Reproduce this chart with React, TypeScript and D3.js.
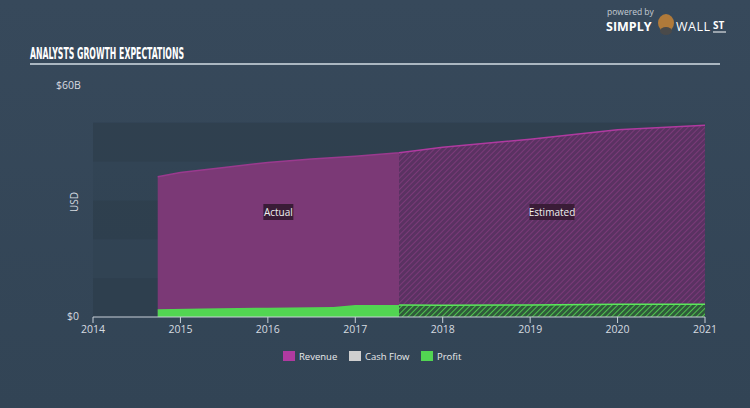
import React from "react";
import * as d3 from "d3";

const W = 750;
const H = 408;

const revenueYears = [2014.74, 2015.0, 2015.5, 2016.0, 2016.5, 2017.0, 2017.5, 2018, 2019, 2020, 2021];
const revenueValues = [36.1, 37.2, 38.5, 39.8, 40.7, 41.4, 42.3, 43.7, 45.8, 48.2, 49.4];

const profitYears = [2014.74, 2015.25, 2016.0, 2016.75, 2017.0, 2017.5, 2018, 2019, 2020, 2021];
const profitValues = [2.0, 2.2, 2.4, 2.6, 3.1, 3.1, 3.0, 3.1, 3.3, 3.3];

const estimateStart = 2017.5;
const xTicks = [2014, 2015, 2016, 2017, 2018, 2019, 2020, 2021];
const bandStarts = [0, 20, 40];
const legendItems = [
  { label: "Revenue", color: "#b03aa0" },
  { label: "Cash Flow", color: "#cfcfcf" },
  { label: "Profit", color: "#52d552" },
];

const FONT = "'Open Sans', Lato, sans-serif";

export default function App() {
  const x = d3.scaleLinear().domain([2014, 2021]).range([93, 705]);
  const y = d3.scaleLinear().domain([0, 60]).range([317, 84]);

  const rev = revenueYears.map((t, i) => ({ t, v: revenueValues[i] }));
  const prof = profitYears.map((t, i) => ({ t, v: profitValues[i] }));

  const area = d3
    .area<{ t: number; v: number }>()
    .x((d) => x(d.t))
    .y0(y(0))
    .y1((d) => y(d.v));
  const line = d3
    .line<{ t: number; v: number }>()
    .x((d) => x(d.t))
    .y((d) => y(d.v));

  const xs = x(estimateStart);
  const x0 = x(revenueYears[0]);
  const x1 = x(2021);

  return (
    <svg width={W} height={H} style={{ position: "absolute", left: 0, top: 0 }}>
      <defs>
        <linearGradient id="bg" x1="0" y1="0" x2="0" y2="1">
          <stop offset="0" stopColor="#37495b" />
          <stop offset="1" stopColor="#324455" />
        </linearGradient>
        <pattern id="hatchRev" width="4" height="4" patternUnits="userSpaceOnUse" patternTransform="rotate(45)">
          <rect width="4" height="4" fill="#5a3262" />
          <line x1="0" y1="0" x2="0" y2="4" stroke="#7a3a78" strokeWidth="2" />
        </pattern>
        <pattern id="hatchProf" width="4" height="4" patternUnits="userSpaceOnUse" patternTransform="rotate(45)">
          <rect width="4" height="4" fill="#2f5a3a" />
          <line x1="0" y1="0" x2="0" y2="4" stroke="#4fc24f" strokeWidth="2" />
        </pattern>
        <clipPath id="clipAct">
          <rect x={0} y={0} width={xs} height={H} />
        </clipPath>
        <clipPath id="clipEst">
          <rect x={xs} y={0} width={W - xs} height={H} />
        </clipPath>
      </defs>
      <rect width={W} height={H} fill="url(#bg)" />

      {/* logo */}
      <g fontFamily={FONT}>
        <text x={607} y={15} fontSize={8.5} fill="#c4ccd4">powered by</text>
        <text x={606} y={31} fontSize={12.5} fontWeight={700} fill="#ffffff">SIMPLY</text>
        <ellipse cx={666} cy={23} rx={8} ry={9} fill="#b07a3a" />
        <ellipse cx={666} cy={31} rx={6} ry={4} fill="#4a4a4a" />
        <text x={676} y={31} fontSize={12.5} fill="#ffffff" letterSpacing={0.5}>WALL</text>
        <text x={713} y={29} fontSize={10} fontWeight={700} fill="#ffffff">ST</text>
        <line x1={713} y1={32} x2={726} y2={32} stroke="#ffffff" strokeWidth={1} />
      </g>

      {/* title */}
      <text
        x={30}
        y={59}
        fontFamily="'DejaVu Sans Condensed', 'DejaVu Sans', sans-serif"
        fontWeight={700}
        fontSize={15}
        fill="#ffffff"
        textLength={154}
        lengthAdjust="spacingAndGlyphs"
      >
        ANALYSTS GROWTH EXPECTATIONS
      </text>
      <line x1={30} y1={64} x2={720} y2={64} stroke="#d3dde4" strokeWidth={1.5} />

      {/* plot bands */}
      <rect x={x(2014)} y={y(50)} width={x(2021) - x(2014)} height={y(0) - y(50)} fill="#2e3e4d" opacity={0.35} />
      {bandStarts.map((b) => (
        <rect
          key={b}
          x={x(2014)}
          y={y(b + 10)}
          width={x(2021) - x(2014)}
          height={y(b) - y(b + 10)}
          fill="#2a3846"
          opacity={0.35}
        />
      ))}

      {/* actual */}
      <g clipPath="url(#clipAct)">
        <path d={area(rev) || ""} fill="#7b3976" />
        <path d={line(rev) || ""} fill="none" stroke="#9a3a8e" strokeWidth={1.5} />
        <path d={area(prof) || ""} fill="#52d552" />
      </g>
      {/* estimated */}
      <g clipPath="url(#clipEst)">
        <path d={area(rev) || ""} fill="url(#hatchRev)" />
        <path d={line(rev) || ""} fill="none" stroke="#b03aa0" strokeWidth={1.5} />
        <path d={area(prof) || ""} fill="url(#hatchProf)" />
        <path d={line(prof) || ""} fill="none" stroke="#5ae85a" strokeWidth={1.5} />
      </g>

      {/* labels */}
      {[
        { text: "Actual", cx: (x0 + xs) / 2, w: 30 },
        { text: "Estimated", cx: (xs + x1) / 2, w: 45 },
      ].map((l) => (
        <g key={l.text}>
          <rect x={l.cx - l.w / 2} y={204} width={l.w} height={16} fill="#3a1c37" />
          <text x={l.cx} y={216} textAnchor="middle" fontFamily={FONT} fontSize={10} fill="#f0f0f0">
            {l.text}
          </text>
        </g>
      ))}

      {/* axes */}
      <line x1={x(2014)} y1={y(0)} x2={x(2021)} y2={y(0)} stroke="#c8d0d8" strokeWidth={1} />
      {xTicks.map((t) => (
        <g key={t}>
          <line x1={x(t)} y1={y(0)} x2={x(t)} y2={y(0) + 6} stroke="#c8d0d8" strokeWidth={1} />
          <text x={x(t)} y={y(0) + 16} textAnchor="middle" fontFamily={FONT} fontSize={10.5} fill="#d6dbe0">
            {t}
          </text>
        </g>
      ))}
      <text x={56} y={89} fontFamily={FONT} fontSize={10.5} fill="#d6dbe0">$60B</text>
      <text x={67} y={320} fontFamily={FONT} fontSize={10.5} fill="#d6dbe0">$0</text>
      <text
        transform={`translate(78,202) rotate(-90)`}
        textAnchor="middle"
        fontFamily={FONT}
        fontSize={10}
        fill="#d6dbe0"
      >
        USD
      </text>

      {/* legend */}
      {legendItems.map((l, i) => {
        const lx = [283, 349, 421][i];
        return (
          <g key={l.label}>
            <rect x={lx} y={351} width={12} height={10} fill={l.color} />
            <text x={lx + 16} y={360} fontFamily={FONT} fontSize={9.5} fill="#e8eaec">
              {l.label}
            </text>
          </g>
        );
      })}
    </svg>
  );
}
